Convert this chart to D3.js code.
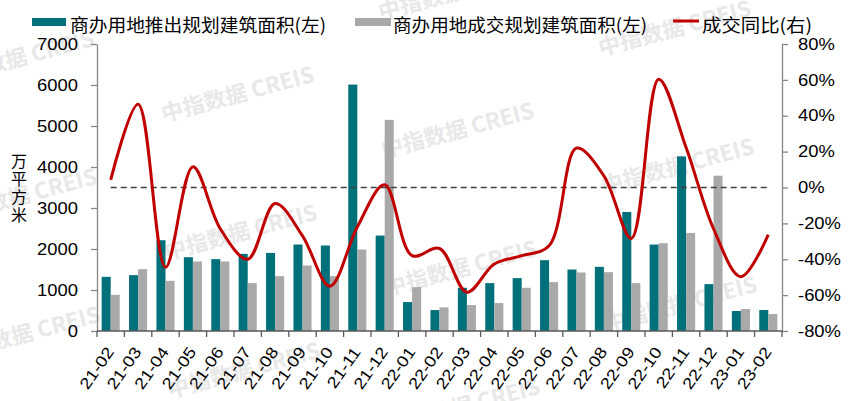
<!DOCTYPE html>
<html>
<head>
<meta charset="utf-8">
<script src="https://cdn.jsdelivr.net/npm/d3@7"></script>
<style>
  html, body { margin: 0; padding: 0; background: #fff; }
  text { font-family: "Liberation Sans", Arial, sans-serif; }
  .cjk { font-family: "Noto Sans CJK SC", sans-serif; }
</style>
</head>
<body>
<div id="chart"></div>
<script>
// months on the x axis
const months = ['21-02','21-03','21-04','21-05','21-06','21-07','21-08','21-09','21-10','21-11','21-12',
  '22-01','22-02','22-03','22-04','22-05','22-06','22-07','22-08','22-09','22-10','22-11','22-12','23-01','23-02'];

// 商办用地推出规划建筑面积 (万平方米)
const launched = [1321,1362,2214,1800,1752,1881,1905,2109,2085,6010,2328,706,511,1054,1168,1290,1727,1500,1565,2903,2109,4258,1143,487,511];
// 商办用地成交规划建筑面积 (万平方米)
const traded = [883,1508,1224,1695,1695,1168,1338,1598,1338,1988,5150,1070,576,633,681,1054,1192,1427,1435,1168,2141,2392,3788,535,414];
// 成交同比 (%)
const yoy = [4.3,46.4,-44.5,11.5,-23,-40,-8.9,-27,-55,-22,1.5,-38,-34,-58.4,-42.7,-38,-32.5,22,6.5,-28.4,60.4,22.3,-23,-49.7,-26.3];

const leftTicks = [0,1000,2000,3000,4000,5000,6000,7000];
const rightTicks = [-80,-60,-40,-20,0,20,40,60,80];

const W = 851, H = 401;
const plot = {l: 97, r: 782, t: 44, b: 331};
const TEAL = '#00707A', GREY = '#A9A9A9', RED = '#C00000';

const svg = d3.select('#chart').append('svg').attr('width', W).attr('height', H);
svg.append('rect').attr('width', W).attr('height', H).attr('fill', '#fff');

// faint watermark lattice
const wm = svg.append('g');
for (let i = -1; i <= 2; i++) {
  for (let j = -1; j <= 2; j++) {
    const cx = 237 + i * 220 + j * 3, cy = 92 + i * 36 + j * 138;
    wm.append('text').attr('class', 'cjk')
      .attr('transform', `translate(${cx},${cy}) rotate(-15)`)
      .attr('text-anchor', 'middle').attr('dominant-baseline', 'central')
      .attr('font-size', 22).attr('font-weight', 'bold').attr('fill', '#e8e8e8')
      .text('中指数据 CREIS');
  }
}

const x = d3.scaleBand().domain(months).range([plot.l, plot.r]).paddingInner(0.34).paddingOuter(0.17);
const xs = d3.scaleBand().domain(['a','b']).range([0, x.bandwidth()]);
const yL = d3.scaleLinear().domain([0, 7000]).range([plot.b, plot.t]);
const yR = d3.scaleLinear().domain([-80, 80]).range([plot.b, plot.t]);
const edge = x.step() * x.paddingInner() / 2;

// bars
const g = svg.append('g');
g.selectAll('.b1').data(launched).join('rect')
  .attr('x', (d,i) => x(months[i]) + xs('a')).attr('width', xs.bandwidth())
  .attr('y', d => yL(d)).attr('height', d => yL(0) - yL(d)).attr('fill', TEAL);
g.selectAll('.b2').data(traded).join('rect')
  .attr('x', (d,i) => x(months[i]) + xs('b')).attr('width', xs.bandwidth())
  .attr('y', d => yL(d)).attr('height', d => yL(0) - yL(d)).attr('fill', GREY);

// zero reference line
const cx0 = x(months[0]) + x.bandwidth() / 2, cx1 = x(months[months.length - 1]) + x.bandwidth() / 2;
svg.append('line').attr('x1', cx0).attr('x2', cx1).attr('y1', yR(0)).attr('y2', yR(0))
  .attr('stroke', '#404040').attr('stroke-width', 1.5).attr('stroke-dasharray', '6,4');

// yoy line
const line = d3.line().x((d,i) => x(months[i]) + x.bandwidth() / 2).y(d => yR(d))
  .curve(d3.curveCatmullRom.alpha(0.5));
svg.append('path').datum(yoy).attr('d', line).attr('fill', 'none')
  .attr('stroke', RED).attr('stroke-width', 3);

// axes
const axL = svg.append('g').attr('transform', `translate(${plot.l},0)`)
  .call(d3.axisLeft(yL).tickValues(leftTicks).tickSize(6).tickSizeOuter(0).tickPadding(13).tickFormat(d3.format('d')));
const axR = svg.append('g').attr('transform', `translate(${plot.r},0)`)
  .call(d3.axisRight(yR).tickValues(rightTicks).tickSize(6).tickSizeOuter(0).tickPadding(10).tickFormat(d => d + '%'));
[axL, axR].forEach(a => {
  a.selectAll('path,line').attr('stroke', '#868686').attr('stroke-width', 1.3);
  a.selectAll('text').attr('font-size', 16).attr('fill', '#000').attr('class', 'stretch');
});

// bottom axis: baseline and ticks at category boundaries
svg.append('line').attr('x1', plot.l).attr('x2', plot.r).attr('y1', plot.b).attr('y2', plot.b)
  .attr('stroke', '#595959').attr('stroke-width', 1.3);
svg.selectAll('.xt').data(months.concat(['end'])).join('line')
  .attr('x1', (d,i) => i < months.length ? x(d) - edge : plot.r)
  .attr('x2', (d,i) => i < months.length ? x(d) - edge : plot.r)
  .attr('y1', plot.b).attr('y2', plot.b + 6).attr('stroke', '#595959').attr('stroke-width', 1.3);
svg.selectAll('.xl').data(months).join('text')
  .attr('transform', d => `translate(${x(d) + x.bandwidth() / 2 + 4},${352}) rotate(-55)`)
  .attr('text-anchor', 'end').attr('font-size', 16).attr('fill', '#000').attr('class', 'stretch')
  .text(d => d);

// y title, stacked vertically
svg.append('text').attr('class', 'cjk')
  .attr('x', 19).attr('y', 153)
  .style('writing-mode', 'vertical-rl').style('text-orientation', 'upright')
  .attr('font-size', 16).attr('letter-spacing', 2).attr('fill', '#000')
  .text('万平方米');

// legend
const leg = svg.append('g');
leg.append('rect').attr('x', 32).attr('y', 18).attr('width', 34).attr('height', 8).attr('fill', TEAL);
leg.append('text').attr('class', 'cjk').attr('x', 70).attr('y', 32).attr('font-size', 18)
  .attr('textLength', 256).attr('lengthAdjust', 'spacingAndGlyphs').text('商办用地推出规划建筑面积(左)');
leg.append('rect').attr('x', 355).attr('y', 18).attr('width', 36).attr('height', 8).attr('fill', GREY);
leg.append('text').attr('class', 'cjk').attr('x', 393).attr('y', 32).attr('font-size', 18)
  .attr('textLength', 254).attr('lengthAdjust', 'spacingAndGlyphs').text('商办用地成交规划建筑面积(左)');
leg.append('line').attr('x1', 673).attr('x2', 699).attr('y1', 21).attr('y2', 21).attr('stroke', RED).attr('stroke-width', 3);
leg.append('text').attr('class', 'cjk').attr('x', 702).attr('y', 32).attr('font-size', 18)
  .attr('textLength', 110).attr('lengthAdjust', 'spacingAndGlyphs').text('成交同比(右)');

// widen numeric labels a bit, the source image is horizontally stretched
svg.selectAll('text.stretch').each(function() {
  const w = this.getComputedTextLength();
  d3.select(this).attr('textLength', w * 1.15).attr('lengthAdjust', 'spacingAndGlyphs');
});
</script>
</body>
</html>
